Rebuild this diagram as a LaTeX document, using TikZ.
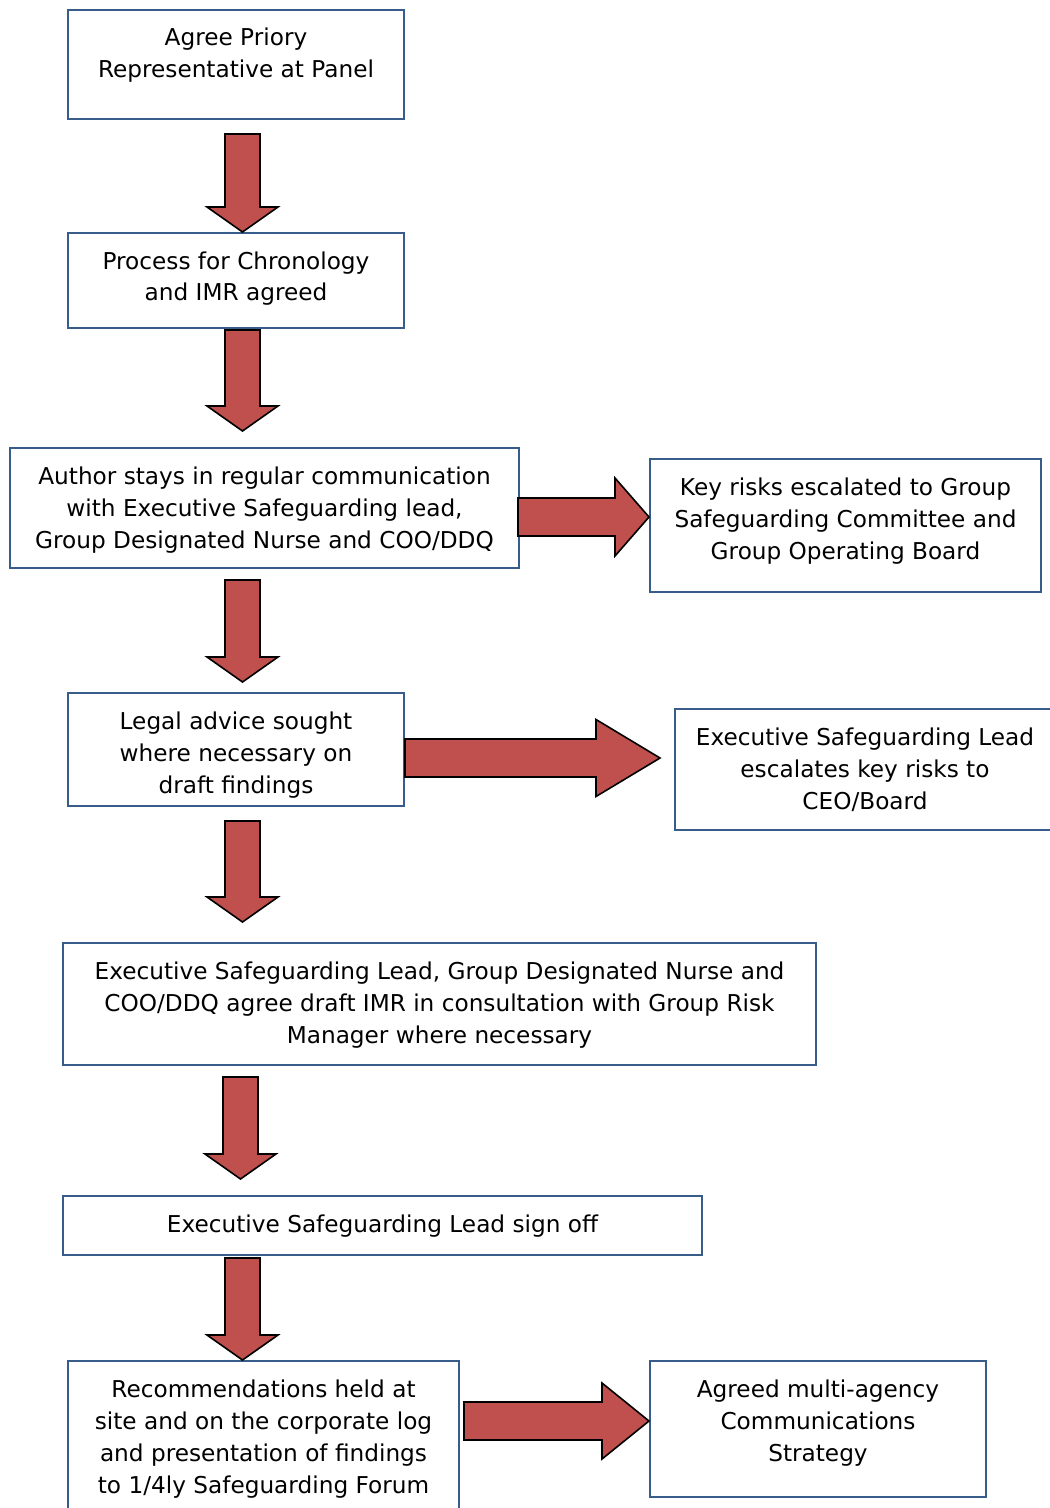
\documentclass[tikz,border=0pt]{standalone}
\usepackage{fontspec}
\setmainfont{DejaVu Sans}
\usetikzlibrary{calc}
\definecolor{boxblue}{RGB}{56,93,138}
\definecolor{arrowred}{RGB}{192,80,77}
\newcommand{\boxtext}[3]{\parbox[c][#2][t]{#1}{\centering\rule{0pt}{18pt}#3}}
\tikzset{
	stepbox/.style={draw=boxblue, line width=1pt, inner sep=0pt, anchor=north west},
	blockarrow/.style={draw=black, fill=arrowred, line width=0.8pt, line join=miter},
	block down/.style n args={3}{to path={let \p1=(\tikztostart), \p2=(\tikztotarget) in
		(\x1-#1,\y1) -- (\x1+#1,\y1) -- (\x1+#1,\y2+#3) -- (\x1+#2,\y2+#3) -- (\x1,\y2)
		-- (\x1-#2,\y2+#3) -- (\x1-#1,\y2+#3) -- cycle}},
	block right/.style n args={3}{to path={let \p1=(\tikztostart), \p2=(\tikztotarget) in
		(\x1,\y1+#1) -- (\x2-#3,\y1+#1) -- (\x2-#3,\y1+#2) -- (\x2,\y1)
		-- (\x2-#3,\y1-#2) -- (\x2-#3,\y1-#1) -- (\x1,\y1-#1) -- cycle}}
}
\begin{document}
\begin{tikzpicture}[x=0.5pt, y=-0.5pt, font=\fontsize{11.6pt}{16pt}\selectfont]
	\useasboundingbox (0,0) rectangle (1049,1508);
	% boxes
	\node[stepbox] (agree) at (67,9) {\boxtext{168pt}{54.5pt}{Agree Priory\\Representative at Panel}};
	\node[stepbox] (process) at (67,232) {\boxtext{168pt}{47.5pt}{Process for Chronology\\and IMR agreed}};
	\node[stepbox] (author) at (9,447) {\boxtext{254.5pt}{60pt}{Author stays in regular communication\\with Executive Safeguarding lead,\\Group Designated Nurse and COO/DDQ}};
	\node[stepbox] (keyrisks) at (649,458) {\boxtext{195.5pt}{66.5pt}{Key risks escalated to Group\\Safeguarding Committee and\\Group Operating Board}};
	\node[stepbox] (legal) at (67,692) {\boxtext{168pt}{56.5pt}{Legal advice sought\\where necessary on\\draft findings}};
	\node[stepbox] (escalate) at (674,708) {\boxtext{190pt}{60.5pt}{Executive Safeguarding Lead\\escalates key risks to\\CEO/Board}};
	\node[stepbox] (agreeimr) at (62,942) {\boxtext{376.5pt}{61pt}{Executive Safeguarding Lead, Group Designated Nurse and\\COO/DDQ agree draft IMR in consultation with Group Risk\\Manager where necessary}};
	\node[stepbox] (signoff) at (62,1195) {\boxtext{319.5pt}{29.5pt}{Executive Safeguarding Lead sign off}};
	\node[stepbox] (recommend) at (67,1360) {\boxtext{195.5pt}{77.5pt}{Recommendations held at\\site and on the corporate log\\and presentation of findings\\to 1/4ly Safeguarding Forum}};
	\node[stepbox] (comms) at (649,1360) {\boxtext{168pt}{68pt}{Agreed multi-agency\\Communications\\Strategy}};
	% block arrows down
	\foreach \src/\dx/\dy/\dst/\ty in {agree/6.5/14/process/0, process/6.5/1/author/-16,
		author/-22/11/legal/-10, legal/6.5/14/agreeimr/-20,
		agreeimr/-199/11/signoff/-16, signoff/-140/2/recommend/0}{
		\draw[blockarrow, block down={8.75pt}{17.75pt}{12.5pt}] ($(\src.south)+(\dx,\dy)$) to ($(\dst.north)+(0,\ty)$);}
	% block arrows right
	\draw[blockarrow, block right={9.5pt}{19.5pt}{17pt}] ($(author.east)+(-2,9)$) to (keyrisks.west);
	\draw[blockarrow, block right={9.5pt}{19.25pt}{32pt}] ($(legal.east)+(0,8.5)$) to ($(escalate.west)+(-14,0)$);
	\draw[blockarrow, block right={9.5pt}{19pt}{23.5pt}] ($(recommend.east)+(4,-17.5)$) to (comms.west);
\end{tikzpicture}
\end{document}
